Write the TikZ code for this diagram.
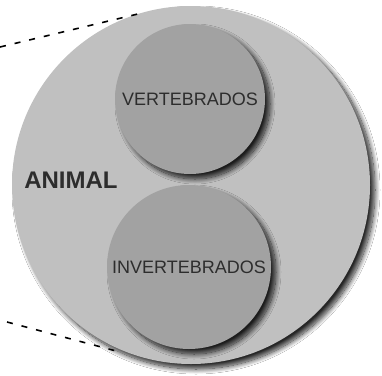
\documentclass[tikz,border=0pt]{standalone}
\usepackage{fontspec}
\setmainfont{Liberation Sans}
\usetikzlibrary{shadows.blur}
\definecolor{bigfill}{RGB}{192,192,192}
\definecolor{smallfill}{RGB}{162,162,162}
\definecolor{txt}{RGB}{45,45,45}
\begin{document}
\begin{tikzpicture}[x=1pt,y=-1pt,
  disc/.style={circle, inner sep=0pt, draw=none},
  sh/.style={blur shadow={shadow xshift=5pt, shadow yshift=-5pt, shadow blur radius=5pt, shadow blur steps=14, shadow opacity=85}},
  lab/.style={font=\fontsize{18}{18}\selectfont, text=txt},
  guide/.style={dash pattern=on 6pt off 9pt, line width=1.6pt}]
\fill[white] (0,0) rectangle (382,375);
\useasboundingbox (0,0) rectangle (382,375);
\node[disc, fill=bigfill, minimum size=358pt, sh] (animal) at (191,185) {};
\node[disc, fill=smallfill, minimum size=150pt, sh, lab] (vert) at (190,99) {VERTEBRADOS};
\node[disc, fill=smallfill, minimum size=164pt, sh, lab] (invert) at (189,267) {INVERTEBRADOS};
\node[font=\bfseries\fontsize{24}{24}\selectfont, text=txt, inner sep=0pt] (ta) at (71,180) {ANIMAL};
\coordinate (t0) at (0,47);
\coordinate (t1) at (142,13);
\coordinate (b0) at (7,322);
\coordinate (b1) at (120,352);
\draw[guide] (t0) -- (t1);
\draw[guide] (b0) -- (b1);
\end{tikzpicture}
\end{document}
